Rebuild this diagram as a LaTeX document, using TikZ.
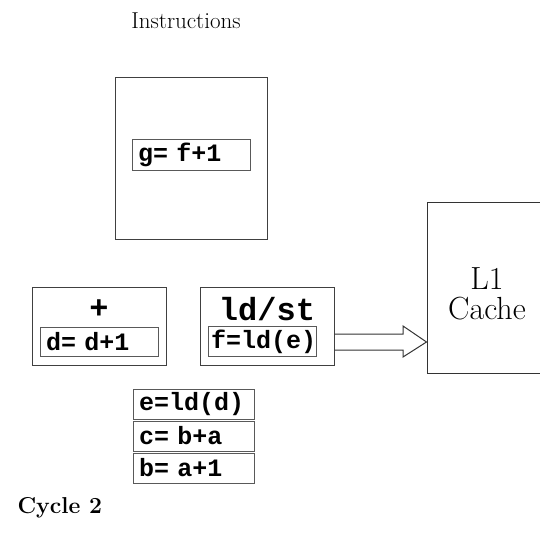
\documentclass[tikz,border=0pt]{standalone}
\usepackage{fontspec}
\setmonofont{Liberation Mono}
\usetikzlibrary{positioning,calc}

\tikzset{
	unit/.style={draw=black!75,line width=1pt,minimum width=134pt,minimum height=78pt},
	slot/.style={draw=black!65,line width=1pt,minimum height=29pt,inner xsep=6pt,align=left,
		font=\fontsize{25}{25}\selectfont\ttfamily\bfseries},
	qslot/.style={slot,text width=109pt,minimum height=30pt,inner ysep=0pt,inner xsep=6pt,outer sep=0pt},
	oplabel/.style={font=\fontsize{32}{32}\selectfont\ttfamily\bfseries},
}

\begin{document}
\begin{tikzpicture}[x=1pt,y=-1pt]
		\useasboundingbox (0,0) rectangle (540,534);
		\node (title) at (186,21) {\fontsize{23}{23}\selectfont Instructions};
		\node[draw=black!75,line width=1pt,minimum width=152pt,minimum height=162pt] (window) at (191,159) {};
		\node[slot,text width=106pt,minimum height=30pt] (g) at (191,155) {g= f+1};
		% functional units
		\node[unit] (add) at (99,326) {};
		\node[oplabel] (addop) at (99,309) {+};
		\node[slot,text width=106pt] (d) at (99,341.5) {d= d+1};
		\node[unit] (ldst) at (267,326) {};
		\node[oplabel] (ldstop) at (267,309) {ld/st};
		\node[slot,text width=102pt,inner xsep=3pt] (f) at (262,341.5) {f=ld(e)};
		% cache
		\node[draw=black!80,line width=1pt,minimum width=114pt,minimum height=170pt] (cache) at (484,288) {};
		\node[align=center,font=\fontsize{32}{30}\selectfont] (cachetext) at (487,294) {L1\\Cache};
		% issue queue
		\node[qslot] (e) at (193.5,404) {e=ld(d)};
		\node[qslot,below=2pt of e] (c) {c= b+a};
		\node[qslot,below=2pt of c] (b) {b= a+1};
		% memory access
		\draw[line width=1pt,draw=black!80] (ldst.east |- 0,334) -- (403,334) -- (403,326) -- (cache.west |- 0,342)
			-- (403,357) -- (403,350) -- (ldst.east |- 0,350);
		\node[font=\fontsize{23}{23}\selectfont\bfseries,anchor=west] (cycle) at (14,508) {Cycle 2};
	\end{tikzpicture}
\end{document}
